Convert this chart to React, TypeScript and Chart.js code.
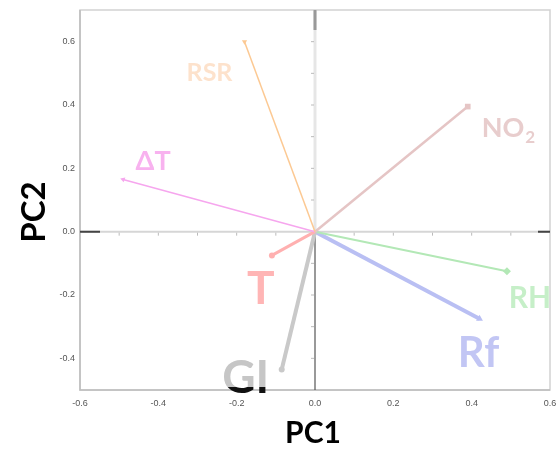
import React, { useEffect, useRef } from "react";
import { Chart, registerables } from "chart.js";

Chart.register(...registerables);

// ---- data ----
const variables = ["RSR", "NO2", "ΔT", "T", "GI", "RH", "Rf"];
const pc1Loadings = [-0.18, 0.39, -0.49, -0.11, -0.085, 0.49, 0.42];
const pc2Loadings = [0.6, 0.395, 0.165, -0.075, -0.435, -0.125, -0.275];
const xTicks = [-0.6, -0.4, -0.2, 0.0, 0.2, 0.4, 0.6];
const yTicks = [-0.4, -0.2, 0.0, 0.2, 0.4, 0.6];
const xMinorTicks = [-0.5, -0.4, -0.3, -0.2, -0.1, 0.1, 0.2, 0.3, 0.4, 0.5];
const yMinorTicks = [-0.4, -0.3, -0.2, -0.1, 0.1, 0.2, 0.3, 0.4, 0.5, 0.6];

// ---- styles ----
const lineColors = ["#fcc993", "#e5c5c5", "#f6a6ee", "#ffb0b0", "#c9c9c9", "#b3e8b6", "#b9bff3"];
const labelColors = ["#fde2cc", "#e8cdcd", "#f8b2ef", "#ffb5b5", "#c6c6c6", "#c6efc8", "#c2c6f4"];
const lineWidths = [1.5, 2.5, 1.5, 3, 4, 2, 4];
const pointStyles = ["triangle", "rect", "triangle", "circle", "circle", "rectRot", "triangle"];
const pointRotations = [180, 0, -70, 0, 0, 0, 120];
const pointRadii = [3, 4, 3, 3, 3, 4, 4];
const labelSizes = [25, 27, 27, 46, 46, 30, 42];
const labelDx = [-35, 14, 30, -11, -36, 23, -1];
const labelDy = [39, 30, -9, 49, 24, 37, 48];

const refPlugin = {
  id: "refDecor",
  beforeDatasetsDraw(chart: any) {
    const { ctx, chartArea } = chart;
    const xs = chart.scales.x;
    const ys = chart.scales.y;
    const x0 = xs.getPixelForValue(0);
    const y0 = ys.getPixelForValue(0);
    ctx.save();
    // border
    ctx.strokeStyle = "#d2d2d2";
    ctx.lineWidth = 1.5;
    ctx.strokeRect(chartArea.left, chartArea.top, chartArea.right - chartArea.left, chartArea.bottom - chartArea.top);
    ctx.strokeStyle = "#bdbdbd";
    ctx.beginPath();
    ctx.moveTo(chartArea.left, chartArea.top);
    ctx.lineTo(chartArea.left, chartArea.bottom);
    ctx.lineTo(chartArea.right, chartArea.bottom);
    ctx.stroke();
    // horizontal zero line
    ctx.strokeStyle = "#d6d6d6";
    ctx.lineWidth = 2;
    ctx.beginPath();
    ctx.moveTo(chartArea.left, y0);
    ctx.lineTo(chartArea.right, y0);
    ctx.stroke();
    ctx.strokeStyle = "#444";
    ctx.lineWidth = 2;
    ctx.beginPath();
    ctx.moveTo(chartArea.left, y0);
    ctx.lineTo(chartArea.left + 20, y0);
    ctx.moveTo(chartArea.right - 12, y0);
    ctx.lineTo(chartArea.right, y0);
    ctx.stroke();
    // vertical zero line
    ctx.strokeStyle = "#e6e6e6";
    ctx.lineWidth = 3;
    ctx.beginPath();
    ctx.moveTo(x0, chartArea.top);
    ctx.lineTo(x0, y0);
    ctx.stroke();
    ctx.strokeStyle = "#999";
    ctx.beginPath();
    ctx.moveTo(x0, chartArea.top);
    ctx.lineTo(x0, chartArea.top + 20);
    ctx.stroke();
    ctx.strokeStyle = "#555";
    ctx.lineWidth = 1.2;
    ctx.beginPath();
    ctx.moveTo(x0, y0);
    ctx.lineTo(x0, chartArea.bottom);
    ctx.stroke();
    // minor ticks
    ctx.strokeStyle = "#bbb";
    ctx.lineWidth = 1;
    ctx.beginPath();
    xMinorTicks.forEach((v) => {
      const px = xs.getPixelForValue(v);
      ctx.moveTo(px, y0 + 1);
      ctx.lineTo(px, y0 + 4);
    });
    yMinorTicks.forEach((v) => {
      const py = ys.getPixelForValue(v);
      ctx.moveTo(x0 - 4, py);
      ctx.lineTo(x0 - 1, py);
    });
    ctx.stroke();
    ctx.restore();
  },
  afterDatasetsDraw(chart: any) {
    const { ctx, chartArea } = chart;
    const xs = chart.scales.x;
    const ys = chart.scales.y;
    ctx.save();
    ctx.textBaseline = "alphabetic";
    variables.forEach((name, i) => {
      const px = xs.getPixelForValue(pc1Loadings[i]) + labelDx[i];
      const py = ys.getPixelForValue(pc2Loadings[i]) + labelDy[i];
      ctx.font = `bold ${labelSizes[i]}px Lato, "Open Sans", sans-serif`;
      if (name === "NO2") {
        ctx.textAlign = "left";
        ctx.fillStyle = labelColors[i];
        ctx.fillText("NO", px, py);
        const w = ctx.measureText("NO").width;
        ctx.font = `bold ${Math.round(labelSizes[i] * 0.62)}px Lato, "Open Sans", sans-serif`;
        ctx.fillText("2", px + w + 1, py + 6);
        return;
      }
      ctx.textAlign = "center";
      if (name === "GI") {
        // black part outside the plot area, grey part inside
        ctx.save();
        ctx.beginPath();
        ctx.rect(0, chartArea.bottom - 3, chart.width, chart.height);
        ctx.clip();
        ctx.fillStyle = "#111";
        ctx.fillText(name, px, py);
        ctx.restore();
        ctx.save();
        ctx.beginPath();
        ctx.rect(0, 0, chart.width, chartArea.bottom - 3);
        ctx.clip();
        ctx.fillStyle = labelColors[i];
        ctx.fillText(name, px, py);
        ctx.restore();
        return;
      }
      ctx.fillStyle = labelColors[i];
      ctx.fillText(name, px, py);
    });
    // axis titles
    ctx.fillStyle = "#000";
    ctx.textAlign = "center";
    ctx.font = `bold 30px Lato, "Open Sans", sans-serif`;
    ctx.fillText("PC1", 313, 443);
    ctx.save();
    ctx.translate(45, 212);
    ctx.rotate(-Math.PI / 2);
    ctx.font = `bold 33px Lato, "Open Sans", sans-serif`;
    ctx.fillText("PC2", 0, 0);
    ctx.restore();
    ctx.restore();
  },
};

export default function App() {
  const canvasRef = useRef<HTMLCanvasElement | null>(null);

  useEffect(() => {
    const canvas = canvasRef.current;
    if (!canvas) return;
    const datasets = variables.map((name, i) => ({
      label: name,
      data: [
        { x: 0, y: 0 },
        { x: pc1Loadings[i], y: pc2Loadings[i] },
      ],
      showLine: true,
      borderColor: lineColors[i],
      backgroundColor: lineColors[i],
      borderWidth: lineWidths[i],
      pointRadius: [0, pointRadii[i]],
      pointBorderWidth: 0,
      pointStyle: pointStyles[i],
      rotation: pointRotations[i],
      clip: false as any,
    }));
    const chart = new Chart(canvas, {
      type: "scatter",
      data: { datasets },
      options: {
        animation: false,
        responsive: false,
        maintainAspectRatio: false,
        layout: { padding: { top: 10, right: 6, left: 0, bottom: 0 } },
        plugins: { legend: { display: false }, tooltip: { enabled: false } },
        scales: {
          x: {
            type: "linear",
            min: -0.6,
            max: 0.6,
            border: { display: false },
            grid: { display: false, drawTicks: false },
            afterBuildTicks: (s: any) => {
              s.ticks = xTicks.map((v) => ({ value: v }));
            },
            afterFit: (s: any) => {
              s.height = 60;
              s.paddingLeft = 0;
              s.paddingRight = 0;
            },
            ticks: {
              padding: 8,
              color: "#555",
              font: { size: 9, family: "Liberation Sans, Arial, sans-serif" },
              callback: (v: any) => Number(v).toFixed(1),
              maxRotation: 0,
              autoSkip: false,
            },
          },
          y: {
            type: "linear",
            min: -0.5,
            max: 0.7,
            border: { display: false },
            grid: { display: false, drawTicks: false },
            afterBuildTicks: (s: any) => {
              s.ticks = yTicks.map((v) => ({ value: v }));
            },
            afterFit: (s: any) => {
              s.width = 80;
              s.paddingTop = 0;
              s.paddingBottom = 0;
            },
            ticks: {
              padding: 5,
              color: "#555",
              font: { size: 9, family: "Liberation Sans, Arial, sans-serif" },
              callback: (v: any) => Number(v).toFixed(1),
              autoSkip: false,
            },
          },
        },
      },
      plugins: [refPlugin],
    } as any);
    return () => chart.destroy();
  }, []);

  return (
    <div style={{ position: "fixed", left: 0, top: 0, width: 556, height: 450, background: "#fff" }}>
      <canvas ref={canvasRef} width={556} height={450} style={{ width: 556, height: 450, display: "block" }} />
    </div>
  );
}
